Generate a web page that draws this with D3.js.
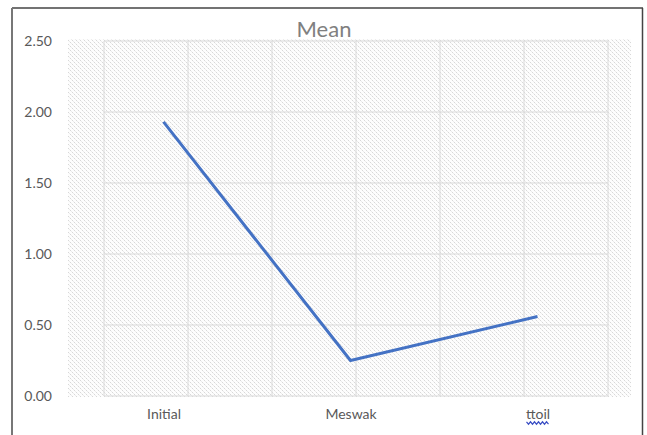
<!DOCTYPE html>
<html>
<head>
<meta charset="utf-8">
<script src="https://cdn.jsdelivr.net/npm/d3@7"></script>
<style>
  html, body { margin: 0; padding: 0; background: #fff; }
  svg { display: block; }
</style>
</head>
<body>
<script>
// Mean score per group
const categories = ["Initial", "Meswak", "ttoil"];
const meanValues = [1.93, 0.25, 0.56];
const yTicks = [0, 0.5, 1.0, 1.5, 2.0, 2.5];

const W = 647, H = 435;
const svg = d3.select("body").append("svg").attr("width", W).attr("height", H);

// dotted diagonal fill for the plot area
const defs = svg.append("defs");
const pat = defs.append("pattern")
  .attr("id", "dots").attr("patternUnits", "userSpaceOnUse")
  .attr("width", 4).attr("height", 4);
pat.append("rect").attr("width", 4).attr("height", 4).attr("fill", "#fdfdfd");
[[0, 0], [1, 1], [2, 2], [3, 3]].forEach(([x, y], i) => {
  pat.append("rect").attr("x", x).attr("y", y).attr("width", 1).attr("height", 1)
    .attr("fill", i % 2 ? "#ececec" : "#d8d8d8");
});

// chart frame
svg.append("line").attr("x1", 12).attr("x2", 643).attr("y1", 8).attr("y2", 8)
  .attr("stroke", "#444").attr("stroke-width", 1.5);
svg.append("line").attr("x1", 12).attr("x2", 12).attr("y1", 8).attr("y2", H)
  .attr("stroke", "#777").attr("stroke-width", 2);
svg.append("line").attr("x1", 642.5).attr("x2", 642.5).attr("y1", 8).attr("y2", H)
  .attr("stroke", "#444").attr("stroke-width", 1.5);

const plot = { left: 70, right: 631, top: 41, bottom: 396 };

const x = d3.scalePoint().domain(categories)
  .range([plot.left, plot.right]).padding(0.5);
const y = d3.scaleLinear().domain([0, 2.5]).range([plot.bottom, plot.top]);

// plot area background
svg.append("rect")
  .attr("x", 68).attr("y", 39)
  .attr("width", 631 - 68).attr("height", 397 - 39)
  .attr("fill", "url(#dots)");

// gridlines
const gx0 = 104, gx1 = 608;
const vLines = d3.range(7).map(i => gx0 + i * (gx1 - gx0) / 6);
svg.append("g").selectAll("line").data(yTicks).join("line")
  .attr("x1", gx0).attr("x2", gx1)
  .attr("y1", d => y(d)).attr("y2", d => y(d))
  .attr("stroke", "#d9d9d9").attr("stroke-width", 1);
svg.append("g").selectAll("line").data(vLines).join("line")
  .attr("x1", d => d).attr("x2", d => d)
  .attr("y1", y(2.5)).attr("y2", y(0))
  .attr("stroke", "#d9d9d9").attr("stroke-width", 1);

// y axis labels
const yAxis = d3.axisLeft(y).tickValues(yTicks).tickFormat(d3.format(".2f")).tickSize(0).tickPadding(0);
const ya = svg.append("g").attr("transform", "translate(52,0)").call(yAxis);
ya.select(".domain").remove();
ya.selectAll("text")
  .attr("fill", "#595959").attr("font-family", "Lato, 'Open Sans', sans-serif")
  .attr("font-size", 14);

// x axis labels
const xAxis = d3.axisBottom(x).tickSize(0).tickPadding(0);
const xa = svg.append("g").attr("transform", "translate(0,409)").call(xAxis);
xa.select(".domain").remove();
xa.selectAll("text")
  .attr("fill", "#595959").attr("font-family", "Lato, 'Open Sans', sans-serif")
  .attr("font-size", 14);

// spell-check squiggle under the last label
const lastX = x(categories[2]) - 11;
const sq = d3.range(0, 24, 2).map((d, i) => [lastX + d, 423 + (i % 2 ? 1.2 : -1.2)]);
svg.append("path").attr("d", d3.line()(sq))
  .attr("fill", "none").attr("stroke", "#3b4fc4").attr("stroke-width", 1.2);

// title
svg.append("text").attr("x", 324).attr("y", 37).attr("text-anchor", "middle")
  .attr("font-family", "Lato, 'Open Sans', sans-serif").attr("font-size", 22)
  .attr("fill", "#808080").text("Mean");

// mean line
svg.append("path")
  .datum(categories.map((c, i) => [x(c), y(meanValues[i])]))
  .attr("d", d3.line())
  .attr("fill", "none").attr("stroke", "#4472c4").attr("stroke-width", 3)
  .attr("stroke-linejoin", "round");
</script>
</body>
</html>
